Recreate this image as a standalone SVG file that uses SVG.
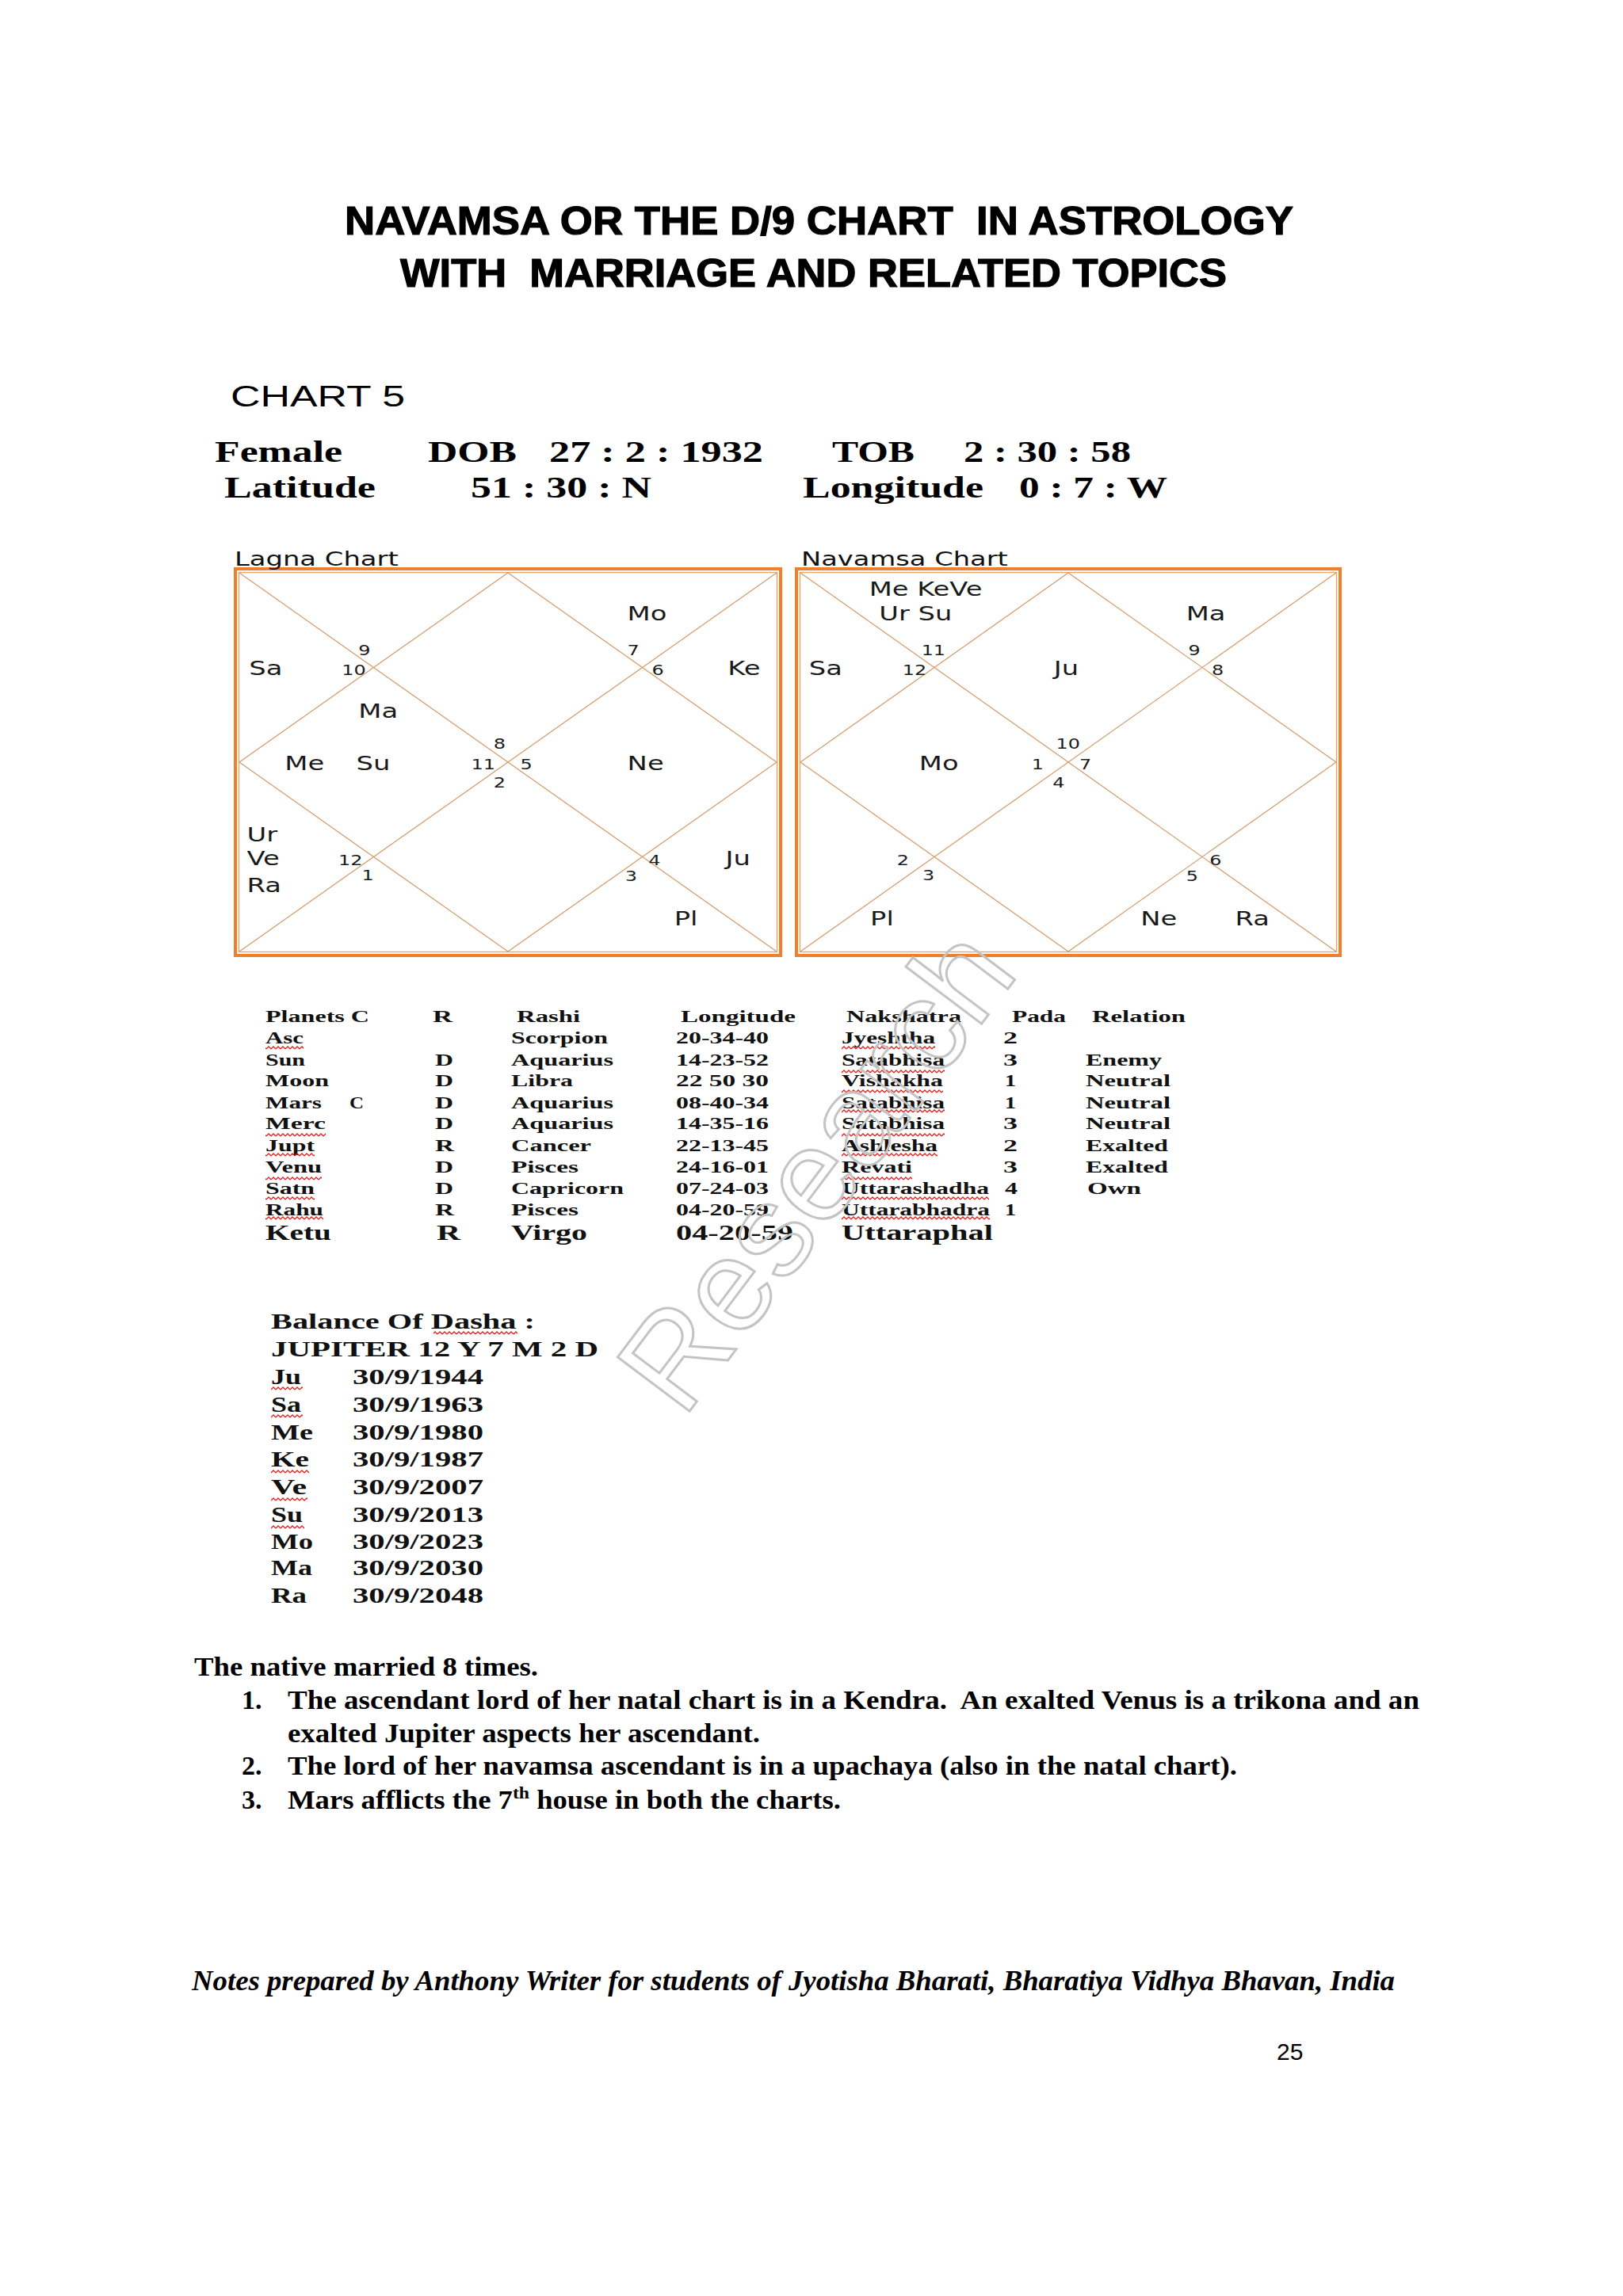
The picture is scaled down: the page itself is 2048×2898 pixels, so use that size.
<svg xmlns="http://www.w3.org/2000/svg" width="2048" height="2898" viewBox="0 0 2048 2898">
<defs>
<style>
.title{font-family:"Liberation Sans",Arial,sans-serif;font-weight:bold;font-size:50px;fill:#000;stroke:#000;stroke-width:1.2;white-space:pre}
.hdr{font-family:"Liberation Serif","Times New Roman",serif;font-weight:bold;font-size:37px;fill:#000}
.cl{font-family:"DejaVu Sans",Verdana,sans-serif;font-size:24px;fill:#1a1a1a}
.cn{font-family:"DejaVu Sans",Verdana,sans-serif;font-size:17px;fill:#1a1a1a}
.cap{font-family:"DejaVu Sans",Verdana,sans-serif;font-size:24px;fill:#111}
.tb{font-family:"Liberation Serif","Times New Roman",serif;font-weight:bold;font-size:22px;fill:#111}
.tk{font-family:"Liberation Serif","Times New Roman",serif;font-weight:bold;font-size:27px;fill:#111}
.ds{font-family:"Liberation Serif","Times New Roman",serif;font-weight:bold;font-size:27px;fill:#111}
.body{font-family:"Liberation Serif","Times New Roman",serif;font-weight:bold;font-size:34px;fill:#000;white-space:pre}
.foot{font-family:"Liberation Serif","Times New Roman",serif;font-style:italic;font-weight:bold;font-size:36px;fill:#000}
.pg{font-family:"Liberation Sans",Arial,sans-serif;font-size:30px;fill:#000}
.bo{fill:none;stroke:#EE7F2D;stroke-width:4}
.bi{fill:none;stroke:#F2A15E;stroke-width:1.3}
.ln{fill:none;stroke:#D49A68;stroke-width:1.2}
.sq{fill:url(#squig)}
.wm{font-family:"Liberation Sans",Arial,sans-serif;font-size:165px;fill:none;stroke:#c4c4c4;stroke-width:3}
</style>
<pattern id="squig" x="0" y="0" width="6" height="5" patternUnits="userSpaceOnUse">
<path d="M0,4 L3,1 L6,4" fill="none" stroke="#e02020" stroke-width="1.3"/>
</pattern>
</defs>
<rect width="2048" height="2898" fill="#ffffff"/>

<g id="title">
<text class="title" x="435" y="296" textLength="1197" lengthAdjust="spacingAndGlyphs" xml:space="preserve">NAVAMSA OR THE D/9 CHART  IN ASTROLOGY</text>
<text class="title" x="505" y="362" textLength="1043" lengthAdjust="spacingAndGlyphs" xml:space="preserve">WITH  MARRIAGE AND RELATED TOPICS</text>
</g>

<g id="chart-header">
<text x="291" y="513" font-family="Liberation Sans, Arial, sans-serif" font-size="36" textLength="220" lengthAdjust="spacingAndGlyphs">CHART 5</text>
<text class="hdr" x="271" y="583" textLength="161" lengthAdjust="spacingAndGlyphs">Female</text>
<text class="hdr" x="540" y="583" textLength="112" lengthAdjust="spacingAndGlyphs">DOB</text>
<text class="hdr" x="693" y="583" textLength="270" lengthAdjust="spacingAndGlyphs">27 : 2 : 1932</text>
<text class="hdr" x="1050" y="583" textLength="104" lengthAdjust="spacingAndGlyphs">TOB</text>
<text class="hdr" x="1216" y="583" textLength="211" lengthAdjust="spacingAndGlyphs">2 : 30 : 58</text>
<text class="hdr" x="283" y="628" textLength="191" lengthAdjust="spacingAndGlyphs">Latitude</text>
<text class="hdr" x="594" y="628" textLength="228" lengthAdjust="spacingAndGlyphs">51 : 30 : N</text>
<text class="hdr" x="1013" y="628" textLength="228" lengthAdjust="spacingAndGlyphs">Longitude</text>
<text class="hdr" x="1286" y="628" textLength="187" lengthAdjust="spacingAndGlyphs">0 : 7 : W</text>
</g>

<g id="lagna-chart">
<rect class="bo" x="297" y="718" width="688" height="488"/>
<rect class="bi" x="301.5" y="722.5" width="679" height="479"/>
<line class="ln" x1="302" y1="723" x2="980" y2="1201"/>
<line class="ln" x1="980" y1="723" x2="302" y2="1201"/>
<polygon class="ln" points="641,723 980,962 641,1201 302,962"/>
<g transform="translate(296,717) scale(1.408,1)">
<text class="cap" x="0" y="-3">Lagna Chart</text>
<text class="cl" x="352" y="66">Mo</text>
<text class="cn" x="111" y="110">9</text>
<text class="cn" x="96" y="135">10</text>
<text class="cl" x="13" y="135">Sa</text>
<text class="cn" x="352" y="110">7</text>
<text class="cn" x="374" y="135">6</text>
<text class="cl" x="442" y="135">Ke</text>
<text class="cl" x="111" y="189">Ma</text>
<text class="cn" x="232" y="228">8</text>
<text class="cl" x="45" y="255">Me</text>
<text class="cl" x="109" y="255">Su</text>
<text class="cn" x="212" y="254">11</text>
<text class="cn" x="256" y="254">5</text>
<text class="cl" x="352" y="255">Ne</text>
<text class="cn" x="232" y="277">2</text>
<text class="cl" x="11" y="345">Ur</text>
<text class="cl" x="11" y="375">Ve</text>
<text class="cl" x="11" y="409">Ra</text>
<text class="cn" x="93" y="375">12</text>
<text class="cn" x="114" y="394">1</text>
<text class="cn" x="371" y="375">4</text>
<text class="cl" x="440" y="375">Ju</text>
<text class="cn" x="350" y="395">3</text>
<text class="cl" x="394" y="451">Pl</text>
</g>
</g>

<g id="navamsa-chart">
<rect class="bo" x="1005" y="718" width="686" height="488"/>
<rect class="bi" x="1009.5" y="722.5" width="677" height="479"/>
<line class="ln" x1="1010" y1="723" x2="1686" y2="1201"/>
<line class="ln" x1="1686" y1="723" x2="1010" y2="1201"/>
<polygon class="ln" points="1348,723 1686,962 1348,1201 1010,962"/>
<g transform="translate(1004,717) scale(1.404,1)">
<text class="cap" x="5" y="-3">Navamsa Chart</text>
<text class="cl" x="66" y="35">Me KeVe</text>
<text class="cl" x="75" y="66">Ur Su</text>
<text class="cl" x="351" y="66">Ma</text>
<text class="cn" x="113" y="110">11</text>
<text class="cn" x="353" y="110">9</text>
<text class="cl" x="12" y="135">Sa</text>
<text class="cn" x="96" y="135">12</text>
<text class="cl" x="232" y="135">Ju</text>
<text class="cn" x="374" y="135">8</text>
<text class="cn" x="234" y="228">10</text>
<text class="cl" x="111" y="255">Mo</text>
<text class="cn" x="212" y="254">1</text>
<text class="cn" x="255" y="254">7</text>
<text class="cn" x="231" y="277">4</text>
<text class="cn" x="91" y="375">2</text>
<text class="cn" x="114" y="394">3</text>
<text class="cn" x="372" y="375">6</text>
<text class="cn" x="351" y="395">5</text>
<text class="cl" x="67" y="451">Pl</text>
<text class="cl" x="310" y="451">Ne</text>
<text class="cl" x="395" y="451">Ra</text>
</g>
</g>

<g id="planet-table">
<text class="tb" x="335" y="1290" textLength="131" lengthAdjust="spacingAndGlyphs">Planets C</text>
<text class="tb" x="546" y="1290" textLength="25" lengthAdjust="spacingAndGlyphs">R</text>
<text class="tb" x="652" y="1290" textLength="80" lengthAdjust="spacingAndGlyphs">Rashi</text>
<text class="tb" x="859" y="1290" textLength="145" lengthAdjust="spacingAndGlyphs">Longitude</text>
<text class="tb" x="1068" y="1290" textLength="145" lengthAdjust="spacingAndGlyphs">Nakshatra</text>
<text class="tb" x="1277" y="1290" textLength="68" lengthAdjust="spacingAndGlyphs">Pada</text>
<text class="tb" x="1378" y="1290" textLength="118" lengthAdjust="spacingAndGlyphs">Relation</text>

<text class="tb" x="335" y="1317" textLength="48" lengthAdjust="spacingAndGlyphs">Asc</text>
<text class="tb" x="645" y="1317" textLength="122" lengthAdjust="spacingAndGlyphs">Scorpion</text>
<text class="tb" x="853" y="1317" textLength="117" lengthAdjust="spacingAndGlyphs">20-34-40</text>
<text class="tb" x="1062" y="1317" textLength="118" lengthAdjust="spacingAndGlyphs">Jyeshtha</text>
<text class="tb" x="1266" y="1317" textLength="18" lengthAdjust="spacingAndGlyphs">2</text>

<text class="tb" x="335" y="1345" textLength="50" lengthAdjust="spacingAndGlyphs">Sun</text>
<text class="tb" x="549" y="1345" textLength="23" lengthAdjust="spacingAndGlyphs">D</text>
<text class="tb" x="645" y="1345" textLength="129" lengthAdjust="spacingAndGlyphs">Aquarius</text>
<text class="tb" x="853" y="1345" textLength="117" lengthAdjust="spacingAndGlyphs">14-23-52</text>
<text class="tb" x="1062" y="1345" textLength="130" lengthAdjust="spacingAndGlyphs">Satabhisa</text>
<text class="tb" x="1266" y="1345" textLength="18" lengthAdjust="spacingAndGlyphs">3</text>
<text class="tb" x="1370" y="1345" textLength="96" lengthAdjust="spacingAndGlyphs">Enemy</text>

<text class="tb" x="335" y="1371" textLength="80" lengthAdjust="spacingAndGlyphs">Moon</text>
<text class="tb" x="549" y="1371" textLength="23" lengthAdjust="spacingAndGlyphs">D</text>
<text class="tb" x="645" y="1371" textLength="78" lengthAdjust="spacingAndGlyphs">Libra</text>
<text class="tb" x="853" y="1371" textLength="117" lengthAdjust="spacingAndGlyphs">22 50 30</text>
<text class="tb" x="1062" y="1371" textLength="128" lengthAdjust="spacingAndGlyphs">Vishakha</text>
<text class="tb" x="1268" y="1371" textLength="14" lengthAdjust="spacingAndGlyphs">1</text>
<text class="tb" x="1370" y="1371" textLength="107" lengthAdjust="spacingAndGlyphs">Neutral</text>

<text class="tb" x="335" y="1399" textLength="71" lengthAdjust="spacingAndGlyphs">Mars</text>
<text class="tb" x="441" y="1399" textLength="18" lengthAdjust="spacingAndGlyphs">C</text>
<text class="tb" x="549" y="1399" textLength="23" lengthAdjust="spacingAndGlyphs">D</text>
<text class="tb" x="645" y="1399" textLength="129" lengthAdjust="spacingAndGlyphs">Aquarius</text>
<text class="tb" x="853" y="1399" textLength="117" lengthAdjust="spacingAndGlyphs">08-40-34</text>
<text class="tb" x="1062" y="1399" textLength="130" lengthAdjust="spacingAndGlyphs">Satabhisa</text>
<text class="tb" x="1268" y="1399" textLength="14" lengthAdjust="spacingAndGlyphs">1</text>
<text class="tb" x="1370" y="1399" textLength="107" lengthAdjust="spacingAndGlyphs">Neutral</text>

<text class="tb" x="335" y="1425" textLength="76" lengthAdjust="spacingAndGlyphs">Merc</text>
<text class="tb" x="549" y="1425" textLength="23" lengthAdjust="spacingAndGlyphs">D</text>
<text class="tb" x="645" y="1425" textLength="129" lengthAdjust="spacingAndGlyphs">Aquarius</text>
<text class="tb" x="853" y="1425" textLength="117" lengthAdjust="spacingAndGlyphs">14-35-16</text>
<text class="tb" x="1062" y="1425" textLength="130" lengthAdjust="spacingAndGlyphs">Satabhisa</text>
<text class="tb" x="1266" y="1425" textLength="18" lengthAdjust="spacingAndGlyphs">3</text>
<text class="tb" x="1370" y="1425" textLength="107" lengthAdjust="spacingAndGlyphs">Neutral</text>

<text class="tb" x="335" y="1453" textLength="62" lengthAdjust="spacingAndGlyphs">Jupt</text>
<text class="tb" x="549" y="1453" textLength="24" lengthAdjust="spacingAndGlyphs">R</text>
<text class="tb" x="645" y="1453" textLength="101" lengthAdjust="spacingAndGlyphs">Cancer</text>
<text class="tb" x="853" y="1453" textLength="117" lengthAdjust="spacingAndGlyphs">22-13-45</text>
<text class="tb" x="1062" y="1453" textLength="121" lengthAdjust="spacingAndGlyphs">Ashlesha</text>
<text class="tb" x="1266" y="1453" textLength="18" lengthAdjust="spacingAndGlyphs">2</text>
<text class="tb" x="1370" y="1453" textLength="104" lengthAdjust="spacingAndGlyphs">Exalted</text>

<text class="tb" x="335" y="1480" textLength="71" lengthAdjust="spacingAndGlyphs">Venu</text>
<text class="tb" x="549" y="1480" textLength="23" lengthAdjust="spacingAndGlyphs">D</text>
<text class="tb" x="645" y="1480" textLength="85" lengthAdjust="spacingAndGlyphs">Pisces</text>
<text class="tb" x="853" y="1480" textLength="117" lengthAdjust="spacingAndGlyphs">24-16-01</text>
<text class="tb" x="1062" y="1480" textLength="89" lengthAdjust="spacingAndGlyphs">Revati</text>
<text class="tb" x="1266" y="1480" textLength="18" lengthAdjust="spacingAndGlyphs">3</text>
<text class="tb" x="1370" y="1480" textLength="104" lengthAdjust="spacingAndGlyphs">Exalted</text>

<text class="tb" x="335" y="1507" textLength="62" lengthAdjust="spacingAndGlyphs">Satn</text>
<text class="tb" x="549" y="1507" textLength="23" lengthAdjust="spacingAndGlyphs">D</text>
<text class="tb" x="645" y="1507" textLength="142" lengthAdjust="spacingAndGlyphs">Capricorn</text>
<text class="tb" x="853" y="1507" textLength="117" lengthAdjust="spacingAndGlyphs">07-24-03</text>
<text class="tb" x="1062" y="1507" textLength="186" lengthAdjust="spacingAndGlyphs">Uttarashadha</text>
<text class="tb" x="1268" y="1507" textLength="16" lengthAdjust="spacingAndGlyphs">4</text>
<text class="tb" x="1372" y="1507" textLength="68" lengthAdjust="spacingAndGlyphs">Own</text>

<text class="tb" x="335" y="1534" textLength="73" lengthAdjust="spacingAndGlyphs">Rahu</text>
<text class="tb" x="549" y="1534" textLength="24" lengthAdjust="spacingAndGlyphs">R</text>
<text class="tb" x="645" y="1534" textLength="85" lengthAdjust="spacingAndGlyphs">Pisces</text>
<text class="tb" x="853" y="1534" textLength="117" lengthAdjust="spacingAndGlyphs">04-20-59</text>
<text class="tb" x="1062" y="1534" textLength="187" lengthAdjust="spacingAndGlyphs">Uttarabhadra</text>
<text class="tb" x="1268" y="1534" textLength="14" lengthAdjust="spacingAndGlyphs">1</text>

<text class="tk" x="335" y="1565" textLength="83" lengthAdjust="spacingAndGlyphs">Ketu</text>
<text class="tk" x="551" y="1565" textLength="30" lengthAdjust="spacingAndGlyphs">R</text>
<text class="tk" x="645" y="1565" textLength="96" lengthAdjust="spacingAndGlyphs">Virgo</text>
<text class="tk" x="853" y="1565" textLength="148" lengthAdjust="spacingAndGlyphs">04-20-59</text>
<text class="tk" x="1062" y="1565" textLength="191" lengthAdjust="spacingAndGlyphs">Uttaraphal</text>

<rect class="sq" x="335" y="1320" width="48" height="5"/>
<rect class="sq" x="335" y="1430" width="76" height="5"/>
<rect class="sq" x="335" y="1455" width="62" height="5"/>
<rect class="sq" x="335" y="1485" width="71" height="5"/>
<rect class="sq" x="335" y="1510" width="62" height="5"/>
<rect class="sq" x="335" y="1535" width="73" height="5"/>
<rect class="sq" x="1062" y="1320" width="118" height="5"/>
<rect class="sq" x="1062" y="1350" width="130" height="5"/>
<rect class="sq" x="1062" y="1375" width="128" height="5"/>
<rect class="sq" x="1062" y="1400" width="130" height="5"/>
<rect class="sq" x="1062" y="1430" width="130" height="5"/>
<rect class="sq" x="1062" y="1455" width="121" height="5"/>
<rect class="sq" x="1062" y="1485" width="89" height="5"/>
<rect class="sq" x="1062" y="1510" width="186" height="5"/>
<rect class="sq" x="1062" y="1535" width="187" height="5"/>
</g>

<g id="dasha">
<text class="ds" x="342" y="1677" textLength="333" lengthAdjust="spacingAndGlyphs">Balance Of Dasha :</text>
<text class="ds" x="342" y="1712" textLength="413" lengthAdjust="spacingAndGlyphs">JUPITER 12 Y 7 M 2 D</text>
<text class="ds" x="342" y="1747" textLength="38" lengthAdjust="spacingAndGlyphs">Ju</text>
<text class="ds" x="445" y="1747" textLength="165" lengthAdjust="spacingAndGlyphs">30/9/1944</text>
<text class="ds" x="342" y="1782" textLength="38" lengthAdjust="spacingAndGlyphs">Sa</text>
<text class="ds" x="445" y="1782" textLength="165" lengthAdjust="spacingAndGlyphs">30/9/1963</text>
<text class="ds" x="342" y="1817" textLength="53" lengthAdjust="spacingAndGlyphs">Me</text>
<text class="ds" x="445" y="1817" textLength="165" lengthAdjust="spacingAndGlyphs">30/9/1980</text>
<text class="ds" x="342" y="1851" textLength="48" lengthAdjust="spacingAndGlyphs">Ke</text>
<text class="ds" x="445" y="1851" textLength="165" lengthAdjust="spacingAndGlyphs">30/9/1987</text>
<text class="ds" x="342" y="1886" textLength="45" lengthAdjust="spacingAndGlyphs">Ve</text>
<text class="ds" x="445" y="1886" textLength="165" lengthAdjust="spacingAndGlyphs">30/9/2007</text>
<text class="ds" x="342" y="1921" textLength="40" lengthAdjust="spacingAndGlyphs">Su</text>
<text class="ds" x="445" y="1921" textLength="165" lengthAdjust="spacingAndGlyphs">30/9/2013</text>
<text class="ds" x="342" y="1955" textLength="53" lengthAdjust="spacingAndGlyphs">Mo</text>
<text class="ds" x="445" y="1955" textLength="165" lengthAdjust="spacingAndGlyphs">30/9/2023</text>
<text class="ds" x="342" y="1988" textLength="52" lengthAdjust="spacingAndGlyphs">Ma</text>
<text class="ds" x="445" y="1988" textLength="165" lengthAdjust="spacingAndGlyphs">30/9/2030</text>
<text class="ds" x="342" y="2023" textLength="45" lengthAdjust="spacingAndGlyphs">Ra</text>
<text class="ds" x="445" y="2023" textLength="165" lengthAdjust="spacingAndGlyphs">30/9/2048</text>
<rect class="sq" x="547" y="1680" width="106" height="5"/>
<rect class="sq" x="342" y="1750" width="40" height="5"/>
<rect class="sq" x="342" y="1785" width="40" height="5"/>
<rect class="sq" x="342" y="1855" width="48" height="5"/>
<rect class="sq" x="342" y="1890" width="46" height="5"/>
<rect class="sq" x="342" y="1925" width="42" height="5"/>
</g>

<g id="notes">
<text class="body" x="245" y="2115" textLength="434" lengthAdjust="spacingAndGlyphs">The native married 8 times.</text>
<text class="body" x="305" y="2157">1.</text>
<text class="body" x="363" y="2157" textLength="1428" lengthAdjust="spacingAndGlyphs" xml:space="preserve">The ascendant lord of her natal chart is in a Kendra.  An exalted Venus is a trikona and an</text>
<text class="body" x="363" y="2199" textLength="596" lengthAdjust="spacingAndGlyphs">exalted Jupiter aspects her ascendant.</text>
<text class="body" x="305" y="2240">2.</text>
<text class="body" x="363" y="2240" textLength="1198" lengthAdjust="spacingAndGlyphs">The lord of her navamsa ascendant is in a upachaya (also in the natal chart).</text>
<text class="body" x="305" y="2283">3.</text>
<text class="body" x="363" y="2283" textLength="698" lengthAdjust="spacingAndGlyphs">Mars afflicts the 7<tspan dy="-13" font-size="22">th</tspan><tspan dy="13"> house in both the charts.</tspan></text>
</g>

<g id="footer">
<text class="foot" x="242" y="2512" textLength="1518" lengthAdjust="spacingAndGlyphs">Notes prepared by Anthony Writer for students of Jyotisha Bharati, Bharatiya Vidhya Bhavan, India</text>
<text class="pg" x="1611" y="2600">25</text>
</g>

<g id="watermark">
<text class="wm" transform="translate(862,1792) rotate(-53)">Research</text>
</g>
</svg>
